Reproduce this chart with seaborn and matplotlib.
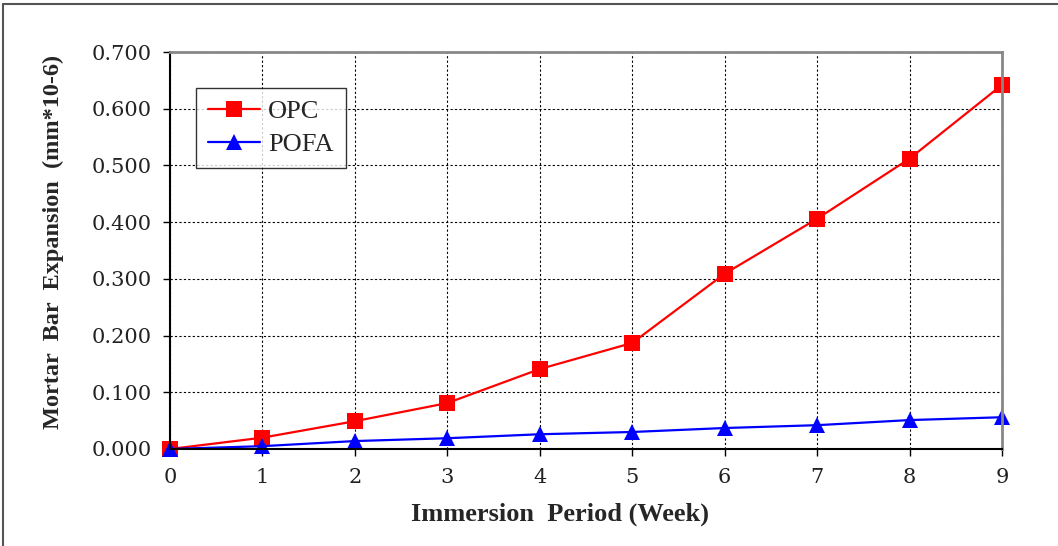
import pandas as pd
import matplotlib.pyplot as plt
import seaborn as sns
from matplotlib.lines import Line2D

# ============================
# DATA
# ============================

weeks = [0, 1, 2, 3, 4, 5, 6, 7, 8, 9]
opc = [0.000, 0.020, 0.049, 0.081, 0.141, 0.187, 0.309, 0.406, 0.512, 0.642]
pofa = [0.000, 0.005, 0.014, 0.019, 0.026, 0.030, 0.037, 0.042, 0.051, 0.056]

df = pd.DataFrame({
    "week": weeks * 2,
    "expansion": opc + pofa,
    "mix": ["OPC"] * len(weeks) + ["POFA"] * len(weeks),
})

sns.set_theme(style="white")
plt.rcParams["font.family"] = ["Liberation Serif", "DejaVu Serif"]

fig = plt.figure(figsize=(10.58, 5.46), dpi=100)
ax = fig.add_axes([170 / 1058, 1 - 449 / 546, 832 / 1058, 397 / 546])

sns.lineplot(
    data=df, x="week", y="expansion", hue="mix", style="mix",
    palette={"OPC": "#ff0000", "POFA": "#0000ff"},
    markers={"OPC": "s", "POFA": "^"}, dashes=False,
    markersize=11, markeredgewidth=0, linewidth=1.6, ax=ax, legend=False,
)

ax.set_xlim(0, 9)
ax.set_ylim(0, 0.7)
ax.set_xticks(range(0, 10))
ax.set_yticks([i / 10 for i in range(8)])
ax.set_yticklabels([f"{i / 10:.3f}" for i in range(8)])
ax.grid(True, color="black", linestyle=(0, (2, 2)), linewidth=0.8)
ax.tick_params(axis="both", labelsize=15, direction="out", length=5, width=1,
               bottom=True, left=True, colors="black")
ax.tick_params(axis="y", pad=8)
ax.tick_params(axis="x", pad=9)
for lbl in ax.get_xticklabels() + ax.get_yticklabels():
    lbl.set_family(["DejaVu Serif"])
    lbl.set_color("#222222")
for s in ["left", "bottom"]:
    ax.spines[s].set_color("black")
    ax.spines[s].set_linewidth(1.5)
for s in ["top", "right"]:
    ax.spines[s].set_color("#888888")
    ax.spines[s].set_linewidth(2)
for m in ax.lines:
    m.set_clip_on(False)

ax.set_xlabel("Immersion  Period (Week)", fontsize=19, fontweight="bold")
ax.set_ylabel("Mortar  Bar  Expansion  (mm*10-6)", fontsize=17.5, fontweight="bold")
ax.xaxis.set_label_coords((560 - 170) / 832, (449 - 503) / 397)
ax.yaxis.set_label_coords((64 - 170) / 832, (449 - 242) / 397)

handles = [
    Line2D([], [], color="#ff0000", marker="s", markersize=11, linewidth=1.6, markeredgewidth=0),
    Line2D([], [], color="#0000ff", marker="^", markersize=11, linewidth=1.6, markeredgewidth=0),
]
leg = ax.legend(handles, ["OPC", "POFA"], loc="upper left", bbox_to_anchor=(0.031, 0.909),
                borderaxespad=0, fontsize=19, frameon=True, fancybox=False, edgecolor="black",
                handlelength=2.0, handletextpad=0.3, borderpad=0.45, labelspacing=0.35)
leg.get_frame().set_linewidth(1)

# page frame lines (top and left)
fig.add_artist(Line2D([3 / 1058, 1], [1 - 4 / 546, 1 - 4 / 546], color="#555555", linewidth=1.5))
fig.add_artist(Line2D([3 / 1058, 3 / 1058], [0, 1 - 4 / 546], color="#555555", linewidth=1.5))

plt.savefig("out.png", dpi=100)
plt.close()
